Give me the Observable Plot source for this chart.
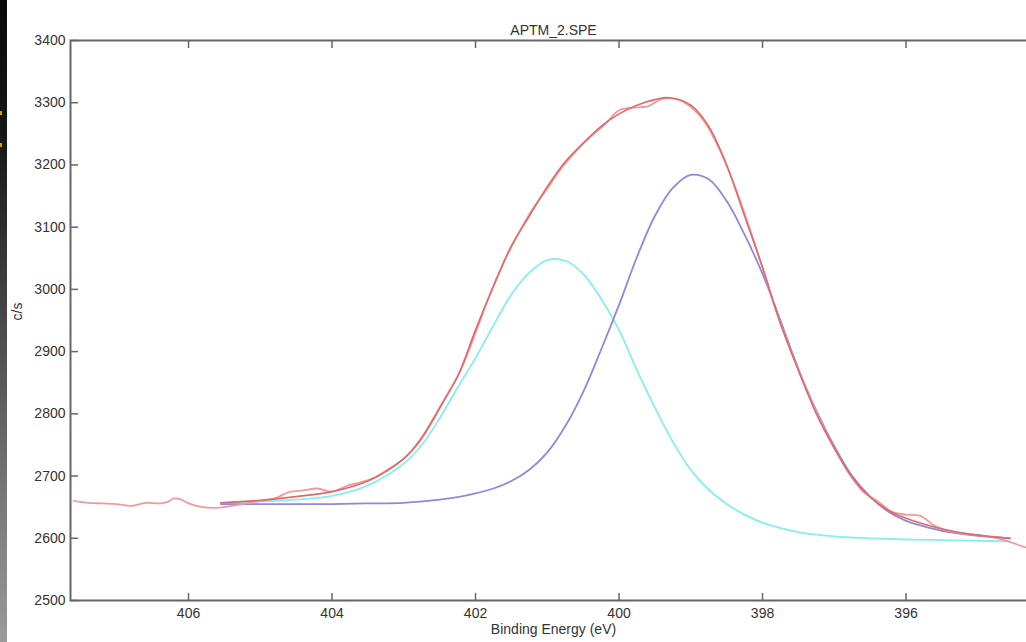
<!DOCTYPE html>
<html>
<head>
<meta charset="utf-8">
<script src="https://cdn.jsdelivr.net/npm/d3@7"></script>
<script src="https://cdn.jsdelivr.net/npm/@observablehq/plot@0.6"></script>
<style>
  html, body { margin: 0; padding: 0; background: #fff; overflow: hidden; width: 1026px; height: 642px; }
  #strip { position: absolute; left: 0; top: 0; width: 7px; height: 642px;
    background: linear-gradient(to bottom, #0a0a0a 0%, #161616 20%, #2e2e2e 35%, #5a5a5a 60%, #7c7c7c 80%, #9a9a9a 100%); }
  .dot { position: absolute; left: 0; width: 2px; height: 4px; background: #c9a400; }
  #chart { position: absolute; left: 0; top: 0; width: 1030px; }
  #chart svg { max-width: none !important; }
</style>
</head>
<body>
<div id="chart"></div>
<div id="strip"><div class="dot" style="top:111px"></div><div class="dot" style="top:143px"></div></div>
<script>
// Measured spectrum (raw counts)
const rawX = [407.6,407.4,407.2,407.0,406.8,406.6,406.4,406.3,406.2,406.1,406.0,405.8,405.6,405.4,405.2,405.0,404.8,404.6,404.4,404.2,404.0,403.8,403.6,403.4,403.2,403.0,402.8,402.6,402.4,402.2,402.0,401.8,401.6,401.4,401.2,401.0,400.8,400.6,400.4,400.2,400.0,399.8,399.6,399.4,399.2,399.0,398.8,398.6,398.4,398.2,398.0,397.8,397.6,397.4,397.2,397.0,396.8,396.6,396.4,396.2,396.0,395.8,395.6,395.4,395.2,395.0,394.8,394.6,394.4,394.3];
const rawY = [2660,2657,2656,2655,2652,2657,2656,2658,2664,2662,2656,2650,2649,2652,2656,2660,2664,2674,2677,2680,2675,2684,2690,2698,2712,2728,2752,2788,2830,2872,2930,2992,3045,3090,3130,3162,3195,3222,3245,3265,3288,3292,3294,3306,3306,3293,3268,3225,3170,3105,3035,2962,2900,2842,2790,2745,2705,2675,2660,2643,2638,2636,2620,2612,2608,2605,2602,2596,2588,2584];

// Fit envelope
const envX = [405.55,405.0,404.5,404.0,403.5,403.0,402.75,402.5,402.25,402.0,401.75,401.5,401.25,401.0,400.75,400.5,400.25,400.0,399.75,399.5,399.3,399.0,398.75,398.5,398.25,398.0,397.75,397.5,397.25,397.0,396.75,396.5,396.25,396.0,395.5,395.0,394.55];
const envY = [2657,2661,2667,2675,2692,2728,2762,2810,2860,2935,3005,3070,3118,3165,3205,3235,3262,3282,3296,3305,3308,3296,3262,3200,3118,3035,2945,2870,2800,2745,2698,2666,2645,2632,2615,2605,2600];

// Component 1 (cyan, ~400.9 eV)
const c1X = [405.55,405.0,404.5,404.0,403.5,403.0,402.75,402.5,402.25,402.0,401.75,401.5,401.25,401.0,400.75,400.5,400.25,400.0,399.75,399.5,399.25,399.0,398.75,398.5,398.25,398.0,397.5,397.0,396.5,396.0,395.5,395.0,394.55];
const c1Y = [2656,2659,2662,2668,2685,2720,2750,2793,2842,2890,2942,2992,3027,3047,3046,3025,2985,2935,2870,2810,2755,2710,2678,2655,2638,2625,2610,2603,2600,2598,2597,2596,2595];

// Component 2 (blue, ~398.9 eV)
const c2X = [405.55,405.0,404.5,404.0,403.5,403.0,402.5,402.25,402.0,401.75,401.5,401.25,401.0,400.75,400.5,400.25,400.0,399.75,399.5,399.25,399.0,398.75,398.5,398.25,398.0,397.75,397.5,397.25,397.0,396.75,396.5,396.25,396.0,395.75,395.5,395.0,394.55];
const c2Y = [2655,2655,2655,2655,2656,2657,2662,2666,2672,2680,2692,2710,2738,2780,2835,2903,2975,3052,3118,3163,3184,3177,3142,3088,3025,2950,2872,2805,2748,2700,2667,2643,2628,2619,2612,2604,2600];

const xTicks = [406, 404, 402, 400, 398, 396];
const yTicks = [2500, 2600, 2700, 2800, 2900, 3000, 3100, 3200, 3300, 3400];

const toRows = (xs, ys, s) => xs.map((x, i) => ({x, y: ys[i], s}));
const raw = toRows(rawX, rawY, "raw");
const env = toRows(envX, envY, "env");
const c1 = toRows(c1X, c1Y, "c1");
const c2 = toRows(c2X, c2Y, "c2");

const font = "Liberation Sans, Arial, sans-serif";
const frameColor = "#666";

const chart = Plot.plot({
  width: 1030,
  height: 642,
  marginLeft: 70,
  marginRight: 2,
  marginTop: 40,
  marginBottom: 42,
  style: {fontFamily: font, fontSize: "14px", color: "#333", background: "transparent", maxWidth: "none"},
  x: {domain: [407.645, 394.293], ticks: xTicks},
  y: {domain: [2500, 3400], ticks: yTicks},
  marks: [
    Plot.line(c1, {x: "x", y: "y", stroke: "#86eef0", strokeWidth: 1.8, curve: "catmull-rom"}),
    Plot.line(c2, {x: "x", y: "y", stroke: "#8d88e0", strokeWidth: 1.8, curve: "catmull-rom"}),
    Plot.line(raw, {x: "x", y: "y", stroke: "#f29a9a", strokeWidth: 1.8, curve: "catmull-rom"}),
    Plot.line(env, {x: "x", y: "y", stroke: "#e06a6a", strokeWidth: 1.6, curve: "catmull-rom"}),
    // inward ticks
    Plot.axisX(xTicks, {anchor: "bottom", tickSize: 7, dy: -7, text: null, label: null, stroke: frameColor, strokeWidth: 1.5}),
    Plot.axisX(xTicks, {anchor: "top", tickSize: 7, dy: 7, text: null, label: null, stroke: frameColor, strokeWidth: 1.5}),
    Plot.axisY(yTicks, {anchor: "left", tickSize: 8, dx: 8, text: null, label: null, stroke: frameColor, strokeWidth: 1.5}),
    // tick labels
    Plot.axisX(xTicks, {anchor: "bottom", tickSize: 0, tickPadding: 8, label: null, fill: "#333", fontSize: 14, tickFormat: "d"}),
    Plot.axisY(yTicks, {anchor: "left", tickSize: 0, tickPadding: 5, label: null, fill: "#333", fontSize: 14, tickFormat: "d"}),
    Plot.frame({stroke: frameColor, strokeWidth: 2}),
    Plot.text(["APTM_2.SPE"], {frameAnchor: "top", dy: -15, dx: 4, fill: "#333", fontSize: 14}),
    Plot.text(["Binding Energy (eV)"], {frameAnchor: "bottom", dy: 33, dx: 4, fill: "#333", fontSize: 14}),
    Plot.text(["c/s"], {frameAnchor: "left", dx: -53, rotate: -90, fill: "#333", fontSize: 14})
  ]
});
document.getElementById("chart").appendChild(chart);
</script>
</body>
</html>
